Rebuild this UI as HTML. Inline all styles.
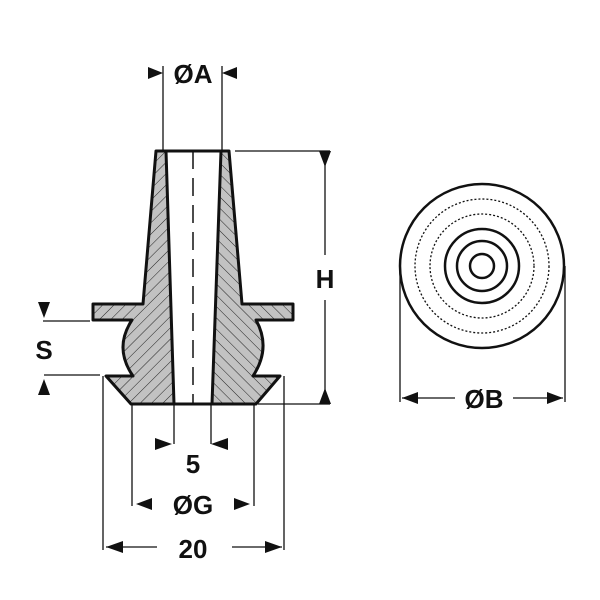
<!DOCTYPE html>
<html><head><style>body{margin:0;background:#fff}svg{display:block}text{font-family:"Liberation Sans",sans-serif;font-weight:bold;fill:#111}</style></head>
<body>
<svg width="600" height="600" viewBox="0 0 600 600" xmlns="http://www.w3.org/2000/svg">
<defs>
<pattern id="h1" patternUnits="userSpaceOnUse" width="8" height="8" patternTransform="rotate(45)">
<rect width="8" height="8" fill="#c2c2c2"/><line x1="0" y1="0" x2="0" y2="8" stroke="#222" stroke-width="1"/></pattern>
<pattern id="h2" patternUnits="userSpaceOnUse" width="8" height="8" patternTransform="rotate(-45)">
<rect width="8" height="8" fill="#c2c2c2"/><line x1="0" y1="0" x2="0" y2="8" stroke="#222" stroke-width="1"/></pattern>
<clipPath id="cl"><rect x="0" y="0" width="193" height="600"/></clipPath>
<clipPath id="cr"><rect x="193" y="0" width="400" height="600"/></clipPath>
</defs>
<g id="body">
<path d="M156,151 L229,151 L242,304 L293,304 L293,320 L256,320 Q271.5,348 253,376 L280,376 L256,404 L131,404 L106,376 L133,376 Q113.5,348 132,320 L93,320 L93,304 L143,304 Z M166,151 L174,404 L212,404 L221,151 Z" fill="url(#h1)" fill-rule="evenodd" clip-path="url(#cl)"/>
<path d="M156,151 L229,151 L242,304 L293,304 L293,320 L256,320 Q271.5,348 253,376 L280,376 L256,404 L131,404 L106,376 L133,376 Q113.5,348 132,320 L93,320 L93,304 L143,304 Z M166,151 L174,404 L212,404 L221,151 Z" fill="url(#h2)" fill-rule="evenodd" clip-path="url(#cr)"/>
<path d="M156,151 L229,151 L242,304 L293,304 L293,320 L256,320 Q271.5,348 253,376 L280,376 L256,404 L131,404 L106,376 L133,376 Q113.5,348 132,320 L93,320 L93,304 L143,304 Z M166,151 L174,404 L212,404 L221,151 Z" fill="none" stroke="#111" stroke-width="3" stroke-linejoin="round"/>
<line x1="193" y1="151" x2="193" y2="404" stroke="#111" stroke-width="1.5" stroke-dasharray="18,9"/>
</g>
<g stroke="#111" stroke-width="1.3" fill="none">
<line x1="163" y1="66" x2="163" y2="151"/><line x1="222" y1="66" x2="222" y2="151"/>
<line x1="235" y1="151" x2="330" y2="151"/><line x1="258" y1="404" x2="330" y2="404"/>
<line x1="325" y1="151" x2="325" y2="255"/><line x1="325" y1="300" x2="325" y2="404"/>
<line x1="43" y1="321" x2="90" y2="321"/><line x1="44" y1="375" x2="100" y2="375"/>
<line x1="103" y1="376" x2="103" y2="550"/><line x1="284" y1="376" x2="284" y2="550"/>
<line x1="132" y1="404" x2="132" y2="506"/><line x1="254" y1="404" x2="254" y2="506"/>
<line x1="174" y1="404" x2="174" y2="444"/><line x1="211" y1="404" x2="211" y2="444"/>
<line x1="106" y1="547" x2="157" y2="547"/><line x1="232" y1="547" x2="282" y2="547"/>
<line x1="400" y1="266" x2="400" y2="402"/><line x1="565" y1="266" x2="565" y2="402"/>
<line x1="402" y1="398" x2="455" y2="398"/><line x1="513" y1="398" x2="563" y2="398"/>
</g>
<g fill="#111">
<polygon points="148,67 163,73 148,79"/><polygon points="237,67 222,73 237,79"/>
<polygon points="319,151 325,167 331,151"/><polygon points="319,404 325,388 331,404"/>
<polygon points="38,302 50,302 44,318"/><polygon points="38,395 50,395 44,379"/>
<polygon points="155,438 172,444 155,450"/><polygon points="228,438 211,444 228,450"/>
<polygon points="152,498 136,504 152,510"/><polygon points="234,498 250,504 234,510"/>
<polygon points="106,547 123,541 123,553"/><polygon points="282,547 265,541 265,553"/>
<polygon points="402,398 418,392 418,404"/><polygon points="563,398 547,392 547,404"/>
</g>
<g font-size="26">
<text x="193" y="83" text-anchor="middle">ØA</text>
<text x="325" y="288" text-anchor="middle">H</text>
<text x="44" y="359" text-anchor="middle">S</text>
<text x="193" y="473" text-anchor="middle">5</text>
<text x="193" y="514" text-anchor="middle">ØG</text>
<text x="193" y="558" text-anchor="middle">20</text>
<text x="484" y="408" text-anchor="middle">ØB</text>
</g>
<g fill="none" stroke="#111">
<circle cx="482" cy="266" r="82" stroke-width="2.5"/>
<circle cx="482" cy="266" r="67" stroke-width="1.3" stroke-dasharray="2,2"/>
<circle cx="482" cy="266" r="52" stroke-width="1.3" stroke-dasharray="2,2"/>
<circle cx="482" cy="266" r="37" stroke-width="2.5"/>
<circle cx="482" cy="266" r="25" stroke-width="2.5"/>
<circle cx="482" cy="266" r="12" stroke-width="2.5"/>
</g>
</svg>
</body></html>
